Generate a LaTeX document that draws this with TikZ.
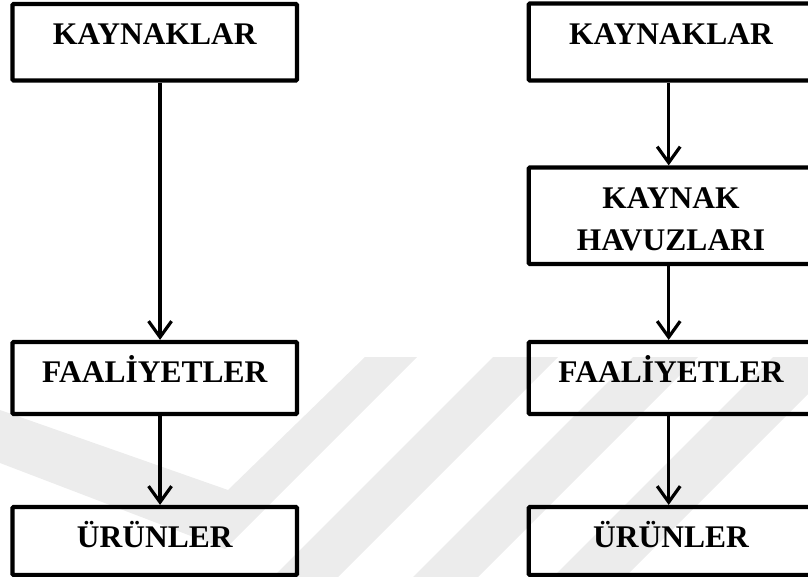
\documentclass[tikz,border=0pt]{standalone}
\usepackage{fontspec}
\setmainfont{Liberation Serif}
\usetikzlibrary{arrows.meta}
\definecolor{wmgray}{RGB}{236,236,236}
\tikzset{
  box/.style={draw=black, line width=4.2pt, rounded corners=1.2pt,
    minimum width=284.5pt, inner sep=0pt, outer sep=2.1pt},
  lbl/.style={anchor=base, inner sep=0pt, align=center,
    font=\bfseries\fontsize{31.5}{42}\selectfont},
  flow/.style={draw=black, line width=3.2pt,
    -{Straight Barb[length=16pt,width=23pt,line width=3.2pt]}},
  wm/.style={fill=wmgray, draw=none}
}
\begin{document}
\begin{tikzpicture}[x=1pt, y=-1pt]
\useasboundingbox (0,0) rectangle (808,577);
\clip (0,0) rectangle (808,577);

% faint background mark
\fill[wm] (0,410) -- (228,490) -- (365,357) -- (417,357) -- (225,549) -- (0,463) -- cycle;
\fill[wm] (493,357) -- (558,357) -- (325,590) -- (260,590) -- cycle;
\fill[wm] (633,357) -- (698,357) -- (465,590) -- (400,590) -- cycle;
\fill[wm] (773,357) -- (845,357) -- (612,590) -- (540,590) -- cycle;

% left column
\node[box, minimum height=76.5pt] (k1) at (154.75,42.25) {};
\node[box, minimum height=72pt]   (f1) at (154.75,378) {};
\node[box, minimum height=68pt]   (u1) at (154.75,541) {};
\node[lbl] (k1t) at ([yshift=-43pt]k1.north) {KAYNAKLAR};
\node[lbl] (f1t) at ([yshift=-43pt]f1.north) {FAAL\.{I}YETLER};
\node[lbl] (u1t) at ([yshift=-43pt]u1.north) {ÜRÜNLER};
\draw[flow] ([xshift=5.3pt]k1.south) -- ([xshift=5.3pt]f1.north);
\draw[flow] ([xshift=5.3pt]f1.south) -- ([xshift=5.3pt]u1.north);

% right column
\node[box, minimum height=77pt]   (k2) at (671,42) {};
\node[box, minimum height=96.5pt] (h2) at (671,215.75) {};
\node[box, minimum height=72pt]   (f2) at (671,378) {};
\node[box, minimum height=68pt]   (u2) at (671,541) {};
\node[lbl] (k2t) at ([yshift=-43pt]k2.north) {KAYNAKLAR};
\node[lbl] (h2t) at ([yshift=-85pt]h2.north) {KAYNAK\\HAVUZLARI};
\node[lbl] (f2t) at ([yshift=-43pt]f2.north) {FAAL\.{I}YETLER};
\node[lbl] (u2t) at ([yshift=-43pt]u2.north) {ÜRÜNLER};
\draw[flow] ([xshift=-2.3pt]k2.south) -- ([xshift=-2.3pt]h2.north);
\draw[flow] ([xshift=-2.3pt]h2.south) -- ([xshift=-2.3pt]f2.north);
\draw[flow] ([xshift=-2.3pt]f2.south) -- ([xshift=-2.3pt]u2.north);
\end{tikzpicture}
\end{document}
